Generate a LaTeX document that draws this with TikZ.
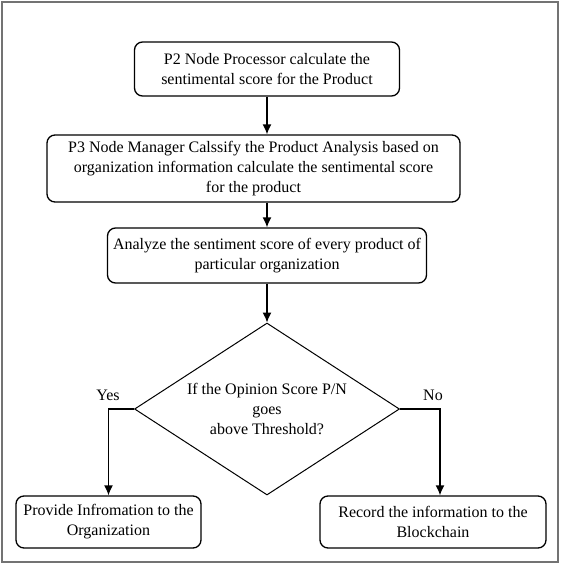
\documentclass[tikz,border=0pt]{standalone}
\usepackage{fontspec}
\setmainfont{Liberation Serif}
\usetikzlibrary{arrows.meta,shapes.geometric}
\begin{document}
\begin{tikzpicture}[x=1pt,y=-1pt,
  every node/.style={font=\fontsize{16}{20}\selectfont, inner sep=0pt},
  procbox/.style={draw, line width=1.3pt, rounded corners=8pt, align=center},
  decbox/.style={draw, line width=1pt, shape=diamond, inner sep=0pt},
  flow/.style={line width=1.3pt, -{Latex[length=10pt,width=9pt]}},
  framebox/.style={draw=black!55, line width=2pt}]
\useasboundingbox (0,0) rectangle (562,565);
\draw[framebox] (2,2) rectangle (558,562);
\node[procbox, minimum width=265pt, minimum height=54pt] (b1) at (267,69)
  {P2 Node Processor calculate the\\sentimental score for the Product};
\node[procbox, minimum width=413pt, minimum height=67pt] (b2) at (253.5,168.5)
  {P3 Node Manager Calssify the Product Analysis based on\\organization information calculate the sentimental score\\for the product};
\node[procbox, minimum width=319pt, minimum height=55pt] (b3) at (267,255.5)
  {Analyze the sentiment score of every product of\\particular organization};
\node[decbox, minimum width=265pt, minimum height=172pt] (d) at (267,409) {};
\node[align=center] (dt) at (d.center) {If the Opinion Score P/N\\goes\\above Threshold?};
\node[procbox, minimum width=185pt, minimum height=52pt] (lb) at (108.5,522)
  {Provide Infromation to the\\Organization};
\node[procbox, minimum width=226pt, minimum height=52pt] (rb) at (433,522)
  {Record the information to the\\Blockchain};
\node (yes) at (108,395) {Yes};
\node (no) at (433,395) {No};
\draw[flow] (b1.south) -- (b1.south |- b2.north);
\draw[flow] (b2.south -| b3.north) -- (b3.north);
\draw[flow] (b3.south) -- (d.north);
\draw[flow] (d.west) -| (lb.north);
\draw[flow] (d.east) -| ([xshift=7pt]rb.north);
\end{tikzpicture}
\end{document}
